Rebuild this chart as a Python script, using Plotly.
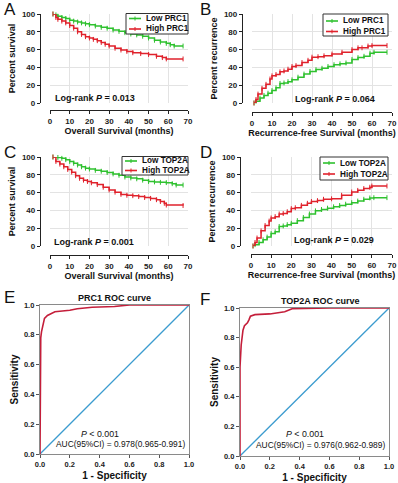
import plotly.graph_objects as go

W, H = 398, 483
FONT = "Liberation Sans, Arial, sans-serif"
GREEN = "#2fc12f"
RED = "#e0222c"
ROC_RED = "#c41e3a"
DIAG = "#3c9ccf"

# ---------------- data ----------------
# Panel A: overall survival by PRC1
a_low_t = [1.5, 3, 4, 6, 8, 10, 12, 14, 16, 18, 20, 23, 26, 29, 32, 35, 38, 41, 44, 47, 50, 53, 56, 59, 61, 63, 67.5]
a_low_s = [100, 99, 97.5, 96, 95, 93, 92, 91, 90, 89, 88, 86.5, 85, 84, 82, 80.5, 79, 77.5, 76.5, 75, 73, 70.5, 68.5, 67, 65.5, 64, 64]
a_high_t = [1.5, 3, 4, 6, 8, 10, 12, 14, 16, 18, 20, 22, 24, 26, 28, 30, 33, 36, 39, 42, 46, 50, 54, 57, 59, 67.5]
a_high_s = [100, 96, 94, 92, 90, 87, 84, 80, 77, 74.5, 73, 71.5, 70, 68, 66, 64, 61.5, 59.5, 58, 56.5, 55.5, 54.5, 52.5, 51, 49.5, 49.5]

# Panel B: recurrence by PRC1
b_low_t = [1, 2, 4, 6, 8, 10, 12, 14, 16, 18, 20, 23, 26, 29, 32, 35, 38, 41, 44, 47, 50, 53, 56, 59, 61, 67.5]
b_low_s = [0, 2, 5.5, 8.5, 11, 14, 17, 22, 22.5, 24, 26, 29, 32.5, 35.5, 37.5, 39, 41, 43, 44, 45, 49, 51, 52.5, 56, 57, 57]
b_high_t = [1, 2, 3, 5, 7, 9, 10, 12, 14, 16, 18, 20, 22, 25, 28, 30, 33, 36, 40, 45, 50, 53, 55, 58, 60, 67.5]
b_high_s = [0, 4, 10, 16.5, 21, 27, 30.5, 32, 35, 36, 38, 41, 42, 45.5, 48, 51.5, 52, 53, 55, 57, 60, 62, 62, 64, 64.5, 64.5]

# Panel C: overall survival by TOP2A
c_low_t = [1.5, 4, 6, 8, 10, 12, 14, 16, 18, 20, 23, 26, 29, 32, 35, 38, 41, 44, 47, 50, 53, 56, 59, 62, 64, 67.5]
c_low_s = [100, 99.5, 98.5, 97, 95, 93, 91, 89, 87.5, 86.5, 85, 84, 82.5, 81, 79.5, 77.5, 76.5, 75.5, 74, 72.5, 72, 71.5, 71.2, 70, 68.5, 68.5]
c_high_t = [1.5, 3, 5, 7, 9, 11, 13, 15, 17, 19, 21, 24, 27, 30, 33, 36, 39, 42, 45, 48, 51, 54, 56, 58, 59, 67.5]
c_high_s = [100, 95, 92, 89, 86, 83, 79, 76, 74, 72.5, 71, 69, 66, 63, 60.5, 58, 57, 56.5, 55.5, 54.5, 53.5, 52, 50, 48, 46, 45.5]

# Panel D: recurrence by TOP2A
d_low_t = [1, 2, 4, 6, 8, 10, 12, 14, 16, 18, 20, 23, 26, 29, 32, 35, 38, 41, 44, 47, 50, 53, 56, 59, 61, 67.5]
d_low_s = [0, 1.5, 4, 7, 10, 14, 16, 22, 22.5, 24, 25.5, 28.5, 32, 36, 39.5, 41, 42.5, 44, 45.5, 47, 48.7, 50.5, 52.5, 54, 54.3, 54.3]
d_high_t = [1, 2, 3, 5, 7, 9, 10, 12, 14, 16, 18, 20, 22, 25, 28, 30, 33, 36, 40, 45, 50, 53, 56, 59, 60, 67.5]
d_high_s = [0, 4, 9, 17, 23, 28, 31.5, 33, 36, 36.5, 38.5, 42, 43, 45.7, 48, 50, 51, 52.5, 53, 57, 60.7, 62.5, 64.5, 66, 67.4, 67.4]

# Panels E/F: ROC curves
e_fpr = [0, 0, 0.005, 0.01, 0.02, 0.03, 0.05, 0.08, 0.1, 0.15, 0.2, 0.25, 0.35, 0.5, 0.6, 1.0]
e_tpr = [0, 0.7, 0.78, 0.82, 0.87, 0.91, 0.93, 0.945, 0.955, 0.96, 0.965, 0.975, 0.985, 0.99, 1.0, 1.0]
f_fpr = [0, 0, 0.008, 0.012, 0.02, 0.03, 0.05, 0.06, 0.07, 0.1, 0.2, 0.3, 0.33, 0.35, 0.6, 1.0]
f_tpr = [0, 0.6, 0.75, 0.8, 0.85, 0.88, 0.9, 0.92, 0.945, 0.955, 0.96, 0.975, 0.985, 0.995, 1.0, 1.0]
diag = [0, 1]

km_ticks_x = [0, 10, 20, 30, 40, 50, 60, 70]
km_ticks_y = [0, 20, 40, 60, 80, 100]
roc_ticks = [0, 0.2, 0.4, 0.6, 0.8, 1.0]


def fx(px):
    return px / W


def fy(py):
    return 1 - py / H


fig = go.Figure()


def km_trace(t, s, name, color, ax):
    fig.add_trace(go.Scatter(
        x=t, y=s, name=name, mode="lines+markers", line=dict(color=color, width=1.5, shape="hv"),
        marker=dict(symbol="line-ns", size=3.5, line=dict(color=color, width=1)),
        xaxis="x" + ax, yaxis="y" + ax, showlegend=False, cliponaxis=False))


km_trace(a_low_t, a_low_s, "Low PRC1", GREEN, "")
km_trace(a_high_t, a_high_s, "High PRC1", RED, "")
km_trace(b_low_t, b_low_s, "Low PRC1", GREEN, "2")
km_trace(b_high_t, b_high_s, "High PRC1", RED, "2")
km_trace(c_low_t, c_low_s, "Low TOP2A", GREEN, "3")
km_trace(c_high_t, c_high_s, "High TOP2A", RED, "3")
km_trace(d_low_t, d_low_s, "Low TOP2A", GREEN, "4")
km_trace(d_high_t, d_high_s, "High TOP2A", RED, "4")

for fpr, tpr, ax in [(e_fpr, e_tpr, "5"), (f_fpr, f_tpr, "6")]:
    fig.add_trace(go.Scatter(x=diag, y=diag, mode="lines", line=dict(color=DIAG, width=1.3),
                             xaxis="x" + ax, yaxis="y" + ax, showlegend=False))
    fig.add_trace(go.Scatter(x=fpr, y=tpr, mode="lines", line=dict(color=ROC_RED, width=1.6),
                             xaxis="x" + ax, yaxis="y" + ax, showlegend=False))

tickfont = dict(family=FONT, size=8, color="#222", weight="bold")
titlefont = dict(family=FONT, size=9, color="#111", weight="bold")


def km_axes(n, x0, x1, ytop, ybot, yline_x, xline_y, xtitle, ytitle):
    sx = "" if n == 1 else str(n)
    common = dict(showline=True, linecolor="#222", linewidth=1.3, ticks="outside", ticklen=3,
                  tickwidth=1.2, tickcolor="#222", showgrid=True, gridcolor="#e3e3e3", gridwidth=1,
                  zeroline=False, tickfont=tickfont, automargin=False)
    fig.layout["xaxis" + sx] = dict(domain=[fx(x0), fx(x1)], range=[0, 70], tickvals=km_ticks_x,
                                   anchor="free", position=fy(xline_y),
                                   title=dict(text=xtitle, font=titlefont, standoff=2),
                                   **common)
    fig.layout["yaxis" + sx] = dict(domain=[fy(ybot), fy(ytop)], range=[0, 100], tickvals=km_ticks_y,
                                   anchor="free", position=fx(yline_x),
                                   title=dict(text=ytitle, font=titlefont, standoff=3),
                                   **common)


km_axes(1, 50, 188, 14, 103, 40, 110, "Overall Survival (months)", "Percent survival")
km_axes(2, 252, 392, 14, 103, 242, 112, "Recurrence-free Survival (months)", "Percent recurrence")
km_axes(3, 50, 188, 157, 246, 40, 255, "Overall Survival (months)", "Percent survival")
km_axes(4, 251, 392, 157, 246, 240, 254, "Recurrence-free Survival (months)", "Percent recurrence")


def roc_axes(n, x0, x1, ytop, ybot, xstand):
    sx = str(n)
    rtitle = dict(family=FONT, size=10, color="#111", weight="bold")
    common = dict(showline=True, mirror=True, linecolor="#8a8a8a", linewidth=1.2, ticks="outside",
                  ticklen=3, tickcolor="#555", showgrid=False, zeroline=False, range=[0, 1],
                  tickvals=roc_ticks, tickformat=".1f", automargin=False,
                  tickfont=dict(family=FONT, size=7.5, color="#222", weight="bold"))
    fig.layout["xaxis" + sx] = dict(domain=[fx(x0), fx(x1)], anchor="y" + sx,
                                   title=dict(text="1 - Specificity", font=rtitle, standoff=xstand), **common)
    fig.layout["yaxis" + sx] = dict(domain=[fy(ybot), fy(ytop)], anchor="x" + sx,
                                   title=dict(text="Sensitivity", font=rtitle, standoff=3), **common)


roc_axes(5, 40, 189, 305, 454, 3)
roc_axes(6, 240, 389, 308, 456, 6)

ann = []
shapes = []


def txt(x, y, s, size=9, xanchor="center", bold=True, color="#111"):
    ann.append(dict(x=fx(x), y=fy(y), xref="paper", yref="paper", text=s,
                    showarrow=False, xanchor=xanchor, yanchor="middle",
                    font=dict(family=FONT, size=size, color=color, weight="bold" if bold else "normal")))


# legend boxes (drawn, compact like the original)
legend_names = [["Low PRC1", "High PRC1"], ["Low PRC1", "High PRC1"],
                ["Low TOP2A", "High TOP2A"], ["Low TOP2A", "High TOP2A"]]
legend_colors = [GREEN, RED]
legend_boxes = [(126, 188, 13.5, 34, 18.5, 29), (323, 388, 14, 36, 21, 31.5),
                (122, 188, 156.5, 175, 161, 170.5), (320, 388, 157, 180, 163, 174)]
for names, (x0, x1, y0, y1, r1, r2) in zip(legend_names, legend_boxes):
    shapes.append(dict(type="rect", xref="paper", yref="paper", x0=fx(x0), x1=fx(x1), y0=fy(y0), y1=fy(y1),
                       line=dict(color="#333", width=1), fillcolor="white", layer="above"))
    for name, color, ry in zip(names, legend_colors, [r1, r2]):
        shapes.append(dict(type="line", xref="paper", yref="paper", x0=fx(x0 + 3), x1=fx(x0 + 15),
                           y0=fy(ry), y1=fy(ry), line=dict(color=color, width=1.6), layer="above"))
        shapes.append(dict(type="line", xref="paper", yref="paper", x0=fx(x0 + 9), x1=fx(x0 + 9),
                           y0=fy(ry - 2), y1=fy(ry + 2), line=dict(color=color, width=1), layer="above"))
        txt(x0 + 18, ry, name, size=8.2, xanchor="left")

txt(53, 98, "Log-rank <i>P</i> = 0.013", xanchor="left")
txt(293, 99, "Log-rank <i>P</i> = 0.064", xanchor="left")
txt(52, 242, "Log-rank <i>P</i> = 0.001", xanchor="left")
txt(292, 240, "Log-rank <i>P</i> = 0.029", xanchor="left")
txt(115, 298, "PRC1 ROC curve")
txt(320, 301, "TOP2A ROC curve")
txt(100, 434, "<i>P</i> < 0.001", size=8.8, bold=False)
txt(187, 444, "AUC(95%CI) = 0.978(0.965-0.991)", size=8.4, xanchor="right", bold=False)
txt(305, 434, "<i>P</i> < 0.001", size=8.8, bold=False)
txt(387, 445, "AUC(95%CI) = 0.976(0.962-0.989)", size=8.4, xanchor="right", bold=False)
for letter, x, y in [("A", 2, 9), ("B", 198, 9), ("C", 2, 152), ("D", 198, 152), ("E", 2, 297), ("F", 198, 299)]:
    txt(x, y, letter, size=17, xanchor="left", bold=False)

fig.update_layout(annotations=ann, shapes=shapes, width=W, height=H, margin=dict(l=0, r=0, t=0, b=0),
                  paper_bgcolor="white", plot_bgcolor="white", font=dict(family=FONT), showlegend=False)

fig.write_html("out.html", config={"displayModeBar": False},
               post_script="document.body.style.margin='0px';document.body.style.overflow='hidden';")
